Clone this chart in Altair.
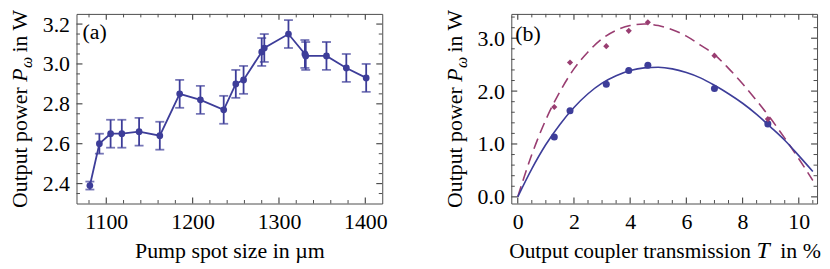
import altair as alt
import pandas as pd

# ---------------- data: panel (a) ----------------
spot_size = [1081, 1092, 1105, 1118, 1138, 1162, 1185, 1209, 1236, 1250, 1259,
             1280, 1283, 1311, 1330, 1331, 1355, 1378, 1401]
power_a = [2.39, 2.60, 2.65, 2.65, 2.66, 2.64, 2.85, 2.82, 2.77, 2.90, 2.92,
           3.06, 3.08, 3.15, 3.05, 3.04, 3.04, 2.98, 2.93]
err_a = [0.02, 0.05, 0.07, 0.07, 0.07, 0.07, 0.07, 0.07, 0.07, 0.07, 0.07,
         0.07, 0.07, 0.07, 0.07, 0.07, 0.07, 0.07, 0.07]

ya_major = [2.4, 2.6, 2.8, 3.0, 3.2]
ya_minor = [2.35, 2.45, 2.5, 2.55, 2.65, 2.7, 2.75, 2.85, 2.9, 2.95, 3.05, 3.1, 3.15]
xa_major = [1100, 1200, 1300, 1400]
xa_minor = [1080, 1120, 1140, 1160, 1180, 1220, 1240, 1260, 1280, 1320, 1340, 1360, 1380]

# ---------------- data: panel (b) ----------------
coupler_T = [1.3, 1.86, 3.15, 3.95, 4.63, 7.0, 8.9]
power_blue = [1.13, 1.63, 2.13, 2.39, 2.49, 2.05, 1.38]
power_red = [1.70, 2.54, 2.85, 3.14, 3.30, 2.67, 1.47]

fit_T = [0, 0.5, 1.0, 1.5, 2.0, 2.5, 3.0, 3.5, 4.0, 4.5, 5.0, 5.5, 6.0, 6.5,
         7.0, 7.5, 8.0, 8.5, 9.0, 9.5, 10.0, 10.5]
fit_blue = [0, 0.53, 0.99, 1.37, 1.69, 1.95, 2.15, 2.29, 2.39, 2.44, 2.45, 2.42,
            2.35, 2.25, 2.11, 1.95, 1.77, 1.56, 1.32, 1.07, 0.78, 0.48]
fit_red = [0, 0.80, 1.46, 1.99, 2.42, 2.74, 2.99, 3.15, 3.24, 3.27, 3.24, 3.16,
           3.04, 2.87, 2.69, 2.43, 2.14, 1.82, 1.48, 1.11, 0.72, 0.31]

yb_major = [0.0, 1.0, 2.0, 3.0]
yb_minor = [0.2, 0.4, 0.6, 0.8, 1.2, 1.4, 1.6, 1.8, 2.2, 2.4, 2.6, 2.8, 3.2, 3.4]
xb_major = [0, 2, 4, 6, 8, 10]
xb_minor = [0.5, 1, 1.5, 2.5, 3, 3.5, 4.5, 5, 5.5, 6.5, 7, 7.5, 8.5, 9, 9.5, 10.5]

# ---------------- style ----------------
W, H = 308, 191
FONT = "'Liberation Serif', 'Times New Roman', 'DejaVu Serif', serif"
FS = 22
BLUE = "#3d3d99"
RED = "#993d71"
FRAME = "#4d4d4d"
MAJ, MIN = 6, 3.5

dummy = pd.DataFrame({"d": [0]})


def frame_ticks(xscale, yscale, xmaj, xmin, ymaj, ymin):
    layers = []
    for vals, ln, sw in ((ymaj, MAJ, 1.2), (ymin, MIN, 1.0)):
        df = pd.DataFrame({"v": vals})
        base = alt.Chart(df).mark_rule(color=FRAME, strokeWidth=sw)
        layers.append(base.encode(y=alt.Y("v:Q", scale=yscale), x=alt.value(0), x2=alt.value(ln)))
        layers.append(base.encode(y=alt.Y("v:Q", scale=yscale), x=alt.value(W - ln), x2=alt.value(W)))
    for vals, ln, sw in ((xmaj, MAJ, 1.2), (xmin, MIN, 1.0)):
        df = pd.DataFrame({"v": vals})
        base = alt.Chart(df).mark_rule(color=FRAME, strokeWidth=sw)
        layers.append(base.encode(x=alt.X("v:Q", scale=xscale), y=alt.value(0), y2=alt.value(ln)))
        layers.append(base.encode(x=alt.X("v:Q", scale=xscale), y=alt.value(H - ln), y2=alt.value(H)))
    return layers


def text_piece(txt, x, y, angle=0, size=FS, style="normal", align="left"):
    kw = dict(text=txt, align=align, baseline="alphabetic", font=FONT,
              fontSize=size, fontStyle=style, color="black")
    if angle:
        kw["angle"] = angle
    return alt.Chart(dummy).mark_text(**kw).encode(x=alt.value(x), y=alt.value(y))


def y_title():
    xb = -50
    return [
        text_piece("Output power", xb, 195.5, angle=270),
        text_piece("P", xb, 68.4, angle=270, style="italic"),
        text_piece("ω", xb + 5, 54.5, angle=270, size=16, style="italic"),
        text_piece("in W", xb, 39.0, angle=270),
    ]


# ---------------- panel (a) ----------------
xs_a = alt.Scale(domain=[1065.5, 1419.6], nice=False, zero=False)
ys_a = alt.Scale(domain=[2.30, 3.251], nice=False, zero=False)

df_a = pd.DataFrame({"s": spot_size, "p": power_a, "e": err_a})
df_a["lo"] = df_a["p"] - df_a["e"]
df_a["hi"] = df_a["p"] + df_a["e"]

xax_a = alt.Axis(values=xa_major, format="d", tickSize=0, domain=False, grid=False,
                 labelPadding=8, title="Pump spot size in µm", titlePadding=8)
yax_a = alt.Axis(values=ya_major, format=".1f", tickSize=0, domain=False, grid=False,
                 labelPadding=7, title=None)

base_a = alt.Chart(df_a)
bars_a = base_a.mark_rule(color=BLUE, strokeWidth=1.8).encode(
    x=alt.X("s:Q", scale=xs_a, axis=xax_a),
    y=alt.Y("lo:Q", scale=ys_a, axis=yax_a),
    y2="hi:Q",
)
cap_lo = base_a.mark_tick(color=BLUE, orient="horizontal", size=9, thickness=1.8).encode(
    x=alt.X("s:Q", scale=xs_a), y=alt.Y("lo:Q", scale=ys_a))
cap_hi = base_a.mark_tick(color=BLUE, orient="horizontal", size=9, thickness=1.8).encode(
    x=alt.X("s:Q", scale=xs_a), y=alt.Y("hi:Q", scale=ys_a))
line_a = base_a.mark_line(color=BLUE, strokeWidth=1.8).encode(
    x=alt.X("s:Q", scale=xs_a), y=alt.Y("p:Q", scale=ys_a))
pts_a = base_a.mark_circle(color=BLUE, size=46, opacity=1).encode(
    x=alt.X("s:Q", scale=xs_a), y=alt.Y("p:Q", scale=ys_a))

label_a = text_piece("(a)", 6, 25)

panel_a = alt.layer(
    bars_a, cap_lo, cap_hi, line_a, pts_a,
    *frame_ticks(xs_a, ys_a, xa_major, xa_minor, ya_major, ya_minor),
    label_a, *y_title(),
).properties(width=W, height=H)

# ---------------- panel (b) ----------------
xs_b = alt.Scale(domain=[-0.23, 10.65], nice=False, zero=False)
ys_b = alt.Scale(domain=[-0.126, 3.46], nice=False, zero=False)

xax_b = alt.Axis(values=xb_major, format="d", tickSize=0, domain=False, grid=False,
                 labelPadding=8, title=None)
yax_b = alt.Axis(values=yb_major, format=".1f", tickSize=0, domain=False, grid=False,
                 labelPadding=7, title=None)

df_fit = pd.DataFrame({"t": fit_T, "blue": fit_blue, "red": fit_red})
df_pts = pd.DataFrame({"t": coupler_T, "blue": power_blue, "red": power_red})

fit_blue_l = alt.Chart(df_fit).mark_line(color=BLUE, strokeWidth=1.6, interpolate="monotone").encode(
    x=alt.X("t:Q", scale=xs_b, axis=xax_b), y=alt.Y("blue:Q", scale=ys_b, axis=yax_b))
fit_red_l = alt.Chart(df_fit).mark_line(color=RED, strokeWidth=1.6, strokeDash=[11, 6],
                                        interpolate="monotone").encode(
    x=alt.X("t:Q", scale=xs_b), y=alt.Y("red:Q", scale=ys_b))
pts_blue = alt.Chart(df_pts).mark_point(color=BLUE, filled=True, size=50, opacity=1,
                                       shape="circle").encode(
    x=alt.X("t:Q", scale=xs_b), y=alt.Y("blue:Q", scale=ys_b))
pts_red = alt.Chart(df_pts).mark_point(color=RED, filled=True, size=38, opacity=1,
                                      shape="diamond").encode(
    x=alt.X("t:Q", scale=xs_b), y=alt.Y("red:Q", scale=ys_b))

label_b = text_piece("(b)", 4, 27)

xt_y = 246
x_title_b = [
    text_piece("Output coupler transmission", -2, xt_y, size=21.5),
    text_piece("T", 247, xt_y, size=24, style="italic"),
    text_piece("in %", 271, xt_y),
]

panel_b = alt.layer(
    fit_red_l, fit_blue_l, pts_blue, pts_red,
    *frame_ticks(xs_b, ys_b, xb_major, xb_minor, yb_major, yb_minor),
    label_b, *y_title(), *x_title_b,
).properties(width=W, height=H)

chart = alt.hconcat(panel_a, panel_b, spacing=130, bounds="flush").configure_view(
    stroke=FRAME, strokeWidth=1
).configure_axis(
    labelFont=FONT, labelFontSize=FS, labelColor="black",
    titleFont=FONT, titleFontSize=FS, titleColor="black", titleFontWeight="normal",
).properties(padding={"left": 0, "top": 0, "right": 0, "bottom": 0})

chart.save("out.html", embed_options={"renderer": "svg", "actions": False})
